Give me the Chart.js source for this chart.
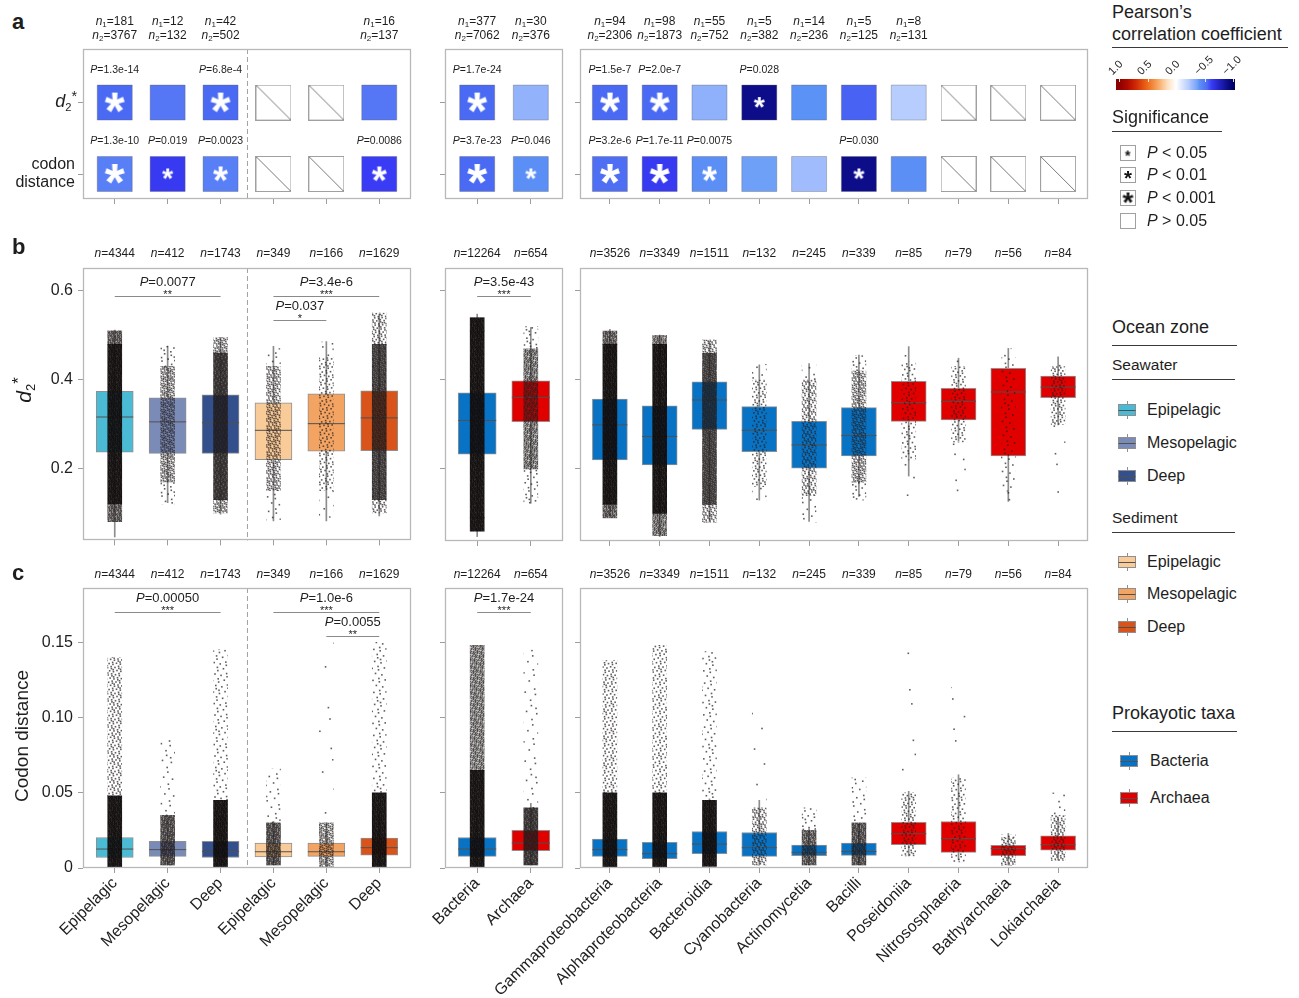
<!DOCTYPE html>
<html><head><meta charset="utf-8"><title>d2* and codon distance</title>
<script src="https://cdn.jsdelivr.net/npm/chart.js@4/dist/chart.umd.min.js"></script>
<style>
html,body{margin:0;padding:0;background:#fff;}
#root{position:relative;width:1299px;height:998px;overflow:hidden;font-family:"Liberation Sans",Arial,Helvetica,sans-serif;color:#1e1e1e;}
#root canvas{position:absolute;}
.t{position:absolute;white-space:nowrap;line-height:1;}
.sb{font-size:62%;position:relative;top:0.32em;}
.sp{font-size:80%;position:relative;top:-0.42em;}
.rule{position:absolute;height:1.2px;background:#3a3a3a;}
</style></head>
<body><div id="root"></div>
<script>
// ===================== DATA =====================
const categories = ['Epipelagic','Mesopelagic','Deep','Epipelagic','Mesopelagic','Deep',
  'Bacteria','Archaea',
  'Gammaproteobacteria','Alphaproteobacteria','Bacteroidia','Cyanobacteria','Actinomycetia','Bacilli',
  'Poseidoniia','Nitrososphaeria','Bathyarchaeia','Lokiarchaeia'];
const groupSizes = [6, 2, 10];

// panel a : sample sizes, Pearson r and P-values (null = NA / not significant)
const aN1 = [181, 12, 42, null, null, 16, 377, 30, 94, 98, 55, 5, 14, 5, 8, null, null, null];
const aN2 = [3767, 132, 502, null, null, 137, 7062, 376, 2306, 1873, 752, 382, 236, 125, 131, null, null, null];
const aCorrD2 = [-0.55, -0.50, -0.55, null, null, -0.50, -0.55, -0.31, -0.55, -0.55, -0.32, -0.90, -0.41, -0.56, -0.22, null, null, null];
const aPD2 = ['1.3e-14', null, '6.8e-4', null, null, null, '1.7e-24', null, '1.5e-7', '2.0e-7', null, '0.028', null, null, null, null, null, null];
const aCorrCodon = [-0.47, -0.63, -0.47, null, null, -0.62, -0.55, -0.42, -0.53, -0.63, -0.42, -0.38, -0.27, -0.90, -0.42, null, null, null];
const aPCodon = ['1.3e-10', '0.019', '0.0023', null, null, '0.0086', '3.7e-23', '0.046', '3.2e-6', '1.7e-11', '0.0075', null, null, '0.030', null, null, null, null];

// panels b, c : sample sizes
const sampleN = [4344, 412, 1743, 349, 166, 1629, 12264, 654, 3526, 3349, 1511, 132, 245, 339, 85, 79, 56, 84];

// panel b : d2* box statistics
const bWhiskerLo = [0.046, 0.123, 0.097, 0.082, 0.082, 0.093, 0.048, 0.123, 0.093, 0.048, 0.082, 0.130, 0.082, 0.138, 0.184, 0.262, 0.127, 0.299];
const bQ1        = [0.237, 0.234, 0.234, 0.220, 0.239, 0.240, 0.233, 0.306, 0.220, 0.209, 0.289, 0.239, 0.202, 0.229, 0.307, 0.310, 0.229, 0.360];
const bMedian    = [0.316, 0.305, 0.303, 0.286, 0.301, 0.314, 0.309, 0.361, 0.299, 0.273, 0.355, 0.287, 0.254, 0.275, 0.349, 0.352, 0.373, 0.384];
const bQ3        = [0.374, 0.359, 0.366, 0.348, 0.368, 0.375, 0.371, 0.398, 0.357, 0.342, 0.396, 0.340, 0.307, 0.338, 0.397, 0.381, 0.426, 0.409];
const bWhiskerHi = [0.512, 0.476, 0.494, 0.475, 0.486, 0.548, 0.548, 0.518, 0.514, 0.501, 0.486, 0.434, 0.437, 0.456, 0.475, 0.449, 0.471, 0.452];
// panel b : extent of the jittered point clouds (outer range and dense core)
const bPointsLo  = [0.08, 0.12, 0.10, 0.08, 0.09, 0.10, 0.06, 0.12, 0.09, 0.05, 0.08, 0.13, 0.08, 0.13, 0.14, 0.13, 0.12, 0.14];
const bCoreLo    = [0.12, 0.17, 0.13, 0.15, 0.15, 0.13, 0.09, 0.20, 0.12, 0.10, 0.12, 0.16, 0.14, 0.17, 0.22, 0.26, 0.15, 0.30];
const bCoreHi    = [0.48, 0.43, 0.46, 0.43, 0.45, 0.48, 0.51, 0.47, 0.48, 0.48, 0.46, 0.40, 0.40, 0.42, 0.44, 0.43, 0.45, 0.43];
const bPointsHi  = [0.51, 0.475, 0.495, 0.47, 0.485, 0.55, 0.54, 0.52, 0.51, 0.50, 0.49, 0.435, 0.435, 0.455, 0.475, 0.45, 0.47, 0.45];

// panel c : codon distance box statistics
const cWhiskerLo = [0.0005, 0.002, 0.0005, 0.002, 0.001, 0.0005, 0.0005, 0.002, 0.0005, 0.0005, 0.001, 0.002, 0.002, 0.002, 0.008, 0.0055, 0.002, 0.0055];
const cQ1        = [0.0070, 0.0077, 0.0070, 0.0073, 0.0077, 0.0086, 0.0077, 0.0115, 0.0077, 0.0062, 0.0095, 0.0077, 0.0082, 0.0084, 0.0155, 0.0104, 0.0082, 0.0119];
const cMedian    = [0.0126, 0.0122, 0.0110, 0.0108, 0.0108, 0.0135, 0.0126, 0.0166, 0.0122, 0.0095, 0.0159, 0.0135, 0.0104, 0.0110, 0.0228, 0.0195, 0.0130, 0.0155];
const cQ3        = [0.0203, 0.0177, 0.0177, 0.0166, 0.0166, 0.0199, 0.0203, 0.0250, 0.0193, 0.0170, 0.0243, 0.0236, 0.0153, 0.0166, 0.0303, 0.0309, 0.0150, 0.0214];
const cWhiskerHi = [0.040, 0.033, 0.034, 0.031, 0.030, 0.037, 0.039, 0.043, 0.037, 0.033, 0.046, 0.045, 0.026, 0.029, 0.051, 0.062, 0.023, 0.033];
const cPointsLo  = [0.0005, 0.002, 0.0005, 0.002, 0.001, 0.0005, 0.0005, 0.002, 0.0005, 0.0005, 0.001, 0.002, 0.002, 0.002, 0.008, 0.004, 0.002, 0.005];
const cCoreLo    = [0.0005, 0.002, 0.0005, 0.002, 0.001, 0.0005, 0.0005, 0.002, 0.0005, 0.0005, 0.001, 0.002, 0.002, 0.002, 0.008, 0.004, 0.002, 0.005];
const cCoreHi    = [0.048, 0.035, 0.045, 0.030, 0.030, 0.050, 0.065, 0.040, 0.050, 0.050, 0.045, 0.040, 0.025, 0.030, 0.050, 0.060, 0.020, 0.035];
const cPointsHi  = [0.140, 0.085, 0.145, 0.066, 0.150, 0.150, 0.148, 0.145, 0.138, 0.148, 0.144, 0.112, 0.040, 0.060, 0.145, 0.120, 0.022, 0.050];

// significance brackets: [fromColumn, toColumn (1-based, global), height (data units), P label, stars]
const bTests = [[1, 3, 0.589, '0.0077', '**'], [4, 6, 0.589, '3.4e-6', '***'], [4, 5, 0.535, '0.037', '*'], [7, 8, 0.589, '3.5e-43', '***']];
const cTests = [[1, 3, 0.170, '0.00050', '***'], [4, 6, 0.170, '1.0e-6', '***'], [5, 6, 0.154, '0.0055', '**'], [7, 8, 0.170, '1.7e-24', '***']];

// tick labels
const bTicks = [0.2, 0.4, 0.6];
const bTickLabels = ['0.2', '0.4', '0.6'];
const cTicks = [0, 0.05, 0.10, 0.15];
const cTickLabels = ['0', '0.05', '0.10', '0.15'];
const corrLegendTicks = [1.0, 0.5, 0.0, -0.5, -1.0];
const corrLegendLabels = ['1.0', '0.5', '0.0', '\u22120.5', '\u22121.0'];

// ===================== STYLE / LAYOUT =====================
const FONT = '"Liberation Sans", Arial, Helvetica, sans-serif';
const BOX_COLORS = ['#4bbbd5', '#7b8bb7', '#33508c', '#f9cb98', '#f4a462', '#d9541b',
  '#0873c5', '#e00000',
  '#0873c5', '#0873c5', '#0873c5', '#0873c5', '#0873c5', '#0873c5', '#e00000', '#e00000', '#e00000', '#e00000'];
const CORR_STOPS = [[1.0, '#8b0000'], [0.85, '#b00a00'], [0.7, '#d02a05'], [0.5, '#ee6a1a'], [0.3, '#f9ad6a'], [0.15, '#fde0c0'],
  [0.0, '#ffffff'], [-0.1, '#dde7fe'], [-0.22, '#b6cdfd'], [-0.27, '#a0bcfc'], [-0.32, '#8fb0fb'], [-0.38, '#6fa0f8'],
  [-0.41, '#5b92f5'], [-0.45, '#5a84f6'], [-0.5, '#5577f5'], [-0.55, '#4a6af4'], [-0.62, '#3a3cf5'], [-0.75, '#2424c8'],
  [-0.9, '#0d0d8a'], [-1.0, '#000066']];
const FRAME_X = [[83, 411], [445, 563], [580, 1088]];
const FRAME_Y = { a: [49, 199], b: [268, 541], c: [588, 868] };
const B_RANGE = [0.038, 0.6517];
const C_RANGE = [0, 0.1862];
const AXIS_COLOR = '#9d9d9d', FRAME_COLOR = '#b8b8b8';
const GROUP_START = [0, 6, 8];

Chart.defaults.font.family = FONT;
const root = document.getElementById('root');

// ===================== HELPERS =====================
function makeCanvas(x, y, w, h) {
  const c = document.createElement('canvas');
  c.width = w; c.height = h;
  c.style.left = x + 'px'; c.style.top = y + 'px';
  c.style.width = w + 'px'; c.style.height = h + 'px';
  root.appendChild(c);
  return c;
}
function txt(html, x, y, o = {}) {
  const d = document.createElement('div');
  d.className = 't'; d.innerHTML = html;
  d.style.fontSize = (o.size || 16) + 'px';
  if (o.bold) d.style.fontWeight = 'bold';
  d.style.left = x + 'px'; d.style.top = y + 'px';
  if (o.rot === -90) {
    d.style.transformOrigin = 'center center';
    d.style.transform = 'translate(-50%,-50%) rotate(-90deg)';
  } else if (o.rot) {
    d.style.transformOrigin = 'left center';
    d.style.transform = `translate(0,-50%) rotate(${o.rot}deg)`;
  } else {
    const ax = o.align === 'r' ? '-100%' : o.align === 'c' ? '-50%' : '0';
    d.style.transform = `translate(${ax},-50%)`;
  }
  root.appendChild(d);
  return d;
}
function rule(x, y, w) {
  const d = document.createElement('div');
  d.className = 'rule';
  d.style.left = x + 'px'; d.style.top = y + 'px'; d.style.width = w + 'px';
  root.appendChild(d);
}
const F = (size, style) => `${style ? style + ' ' : ''}${size}px ${FONT}`;
function drawRich(ctx, parts, cx, baseline) {
  let total = 0;
  parts.forEach(p => { ctx.font = p.font; total += ctx.measureText(p.t).width; });
  let x = cx - total / 2;
  ctx.textAlign = 'left'; ctx.textBaseline = 'alphabetic';
  parts.forEach(p => { ctx.font = p.font; ctx.fillText(p.t, x, baseline + (p.dy || 0)); x += ctx.measureText(p.t).width; });
}
function hexToRgb(h) { return [1, 3, 5].map(i => parseInt(h.slice(i, i + 2), 16)); }
function corrColor(v) {
  for (let i = 0; i < CORR_STOPS.length - 1; i++) {
    const [v0, c0] = CORR_STOPS[i], [v1, c1] = CORR_STOPS[i + 1];
    if (v <= v0 && v >= v1) {
      const t = (v0 - v) / (v0 - v1), a = hexToRgb(c0), b = hexToRgb(c1);
      return `rgb(${a.map((x, j) => Math.round(x + (b[j] - x) * t)).join(',')})`;
    }
  }
  return CORR_STOPS[CORR_STOPS.length - 1][1];
}
function sigLevel(p) {
  if (p == null) return 0;
  const v = Number(p);
  return v < 0.001 ? 3 : v < 0.01 ? 2 : v < 0.05 ? 1 : 0;
}
const astCache = {};
function asterisk(widthPx, color) {
  const key = widthPx + color;
  if (astCache[key]) return astCache[key];
  const m0 = document.createElement('canvas').getContext('2d');
  m0.font = `bold 100px ${FONT}`;
  const mm = m0.measureText('*');
  const fs = 100 * widthPx / (mm.actualBoundingBoxLeft + mm.actualBoundingBoxRight);
  const S = Math.ceil(widthPx * 1.5) + 2;
  const c = document.createElement('canvas'); c.width = c.height = S;
  const g = c.getContext('2d');
  g.font = `bold ${fs}px ${FONT}`;
  const m = g.measureText('*');
  const w = m.actualBoundingBoxLeft + m.actualBoundingBoxRight;
  const h = m.actualBoundingBoxAscent + m.actualBoundingBoxDescent;
  g.fillStyle = color; g.textAlign = 'left'; g.textBaseline = 'alphabetic';
  g.fillText('*', (S - w) / 2 + m.actualBoundingBoxLeft, (S - h) / 2 + m.actualBoundingBoxAscent);
  astCache[key] = c;
  return c;
}
function naMarker() {
  const c = document.createElement('canvas'); c.width = c.height = 36;
  const g = c.getContext('2d');
  g.fillStyle = '#fff'; g.fillRect(0, 0, 36, 36);
  g.strokeStyle = '#a0a0a0'; g.lineWidth = 1; g.strokeRect(0.5, 0.5, 35, 35);
  g.strokeStyle = '#7a7a7a'; g.beginPath(); g.moveTo(1, 1); g.lineTo(35, 35); g.stroke();
  return c;
}
// stipple texture (a fill style only): dots spread with a low-discrepancy (R2) sequence, wrapped at tile edges
function stipple(ctx2d, density) {
  const d = Math.min(density, 2.4);
  const T = d >= 0.1 ? 26 : Math.min(260, Math.round(Math.sqrt(70 / Math.max(d, 1e-5))));
  const c = document.createElement('canvas'); c.width = c.height = T;
  const g = c.getContext('2d');
  let count = Math.max(1, Math.round(d * T * T));
  if (d > 1.2) {
    g.fillStyle = 'rgba(34,28,28,0.8)'; g.fillRect(0, 0, T, T);
    count = Math.round(0.5 * T * T);
    g.fillStyle = 'rgba(18,14,14,0.85)';
  } else {
    g.fillStyle = 'rgba(36,30,30,0.72)';
  }
  for (let i = 0; i < count; i++) {
    const x = ((0.5 + i * 0.7548776662) % 1) * T, y = ((0.5 + i * 0.5698402910) % 1) * T;
    g.fillRect(x, y, 1.6, 1.6);
    if (x > T - 1.6) g.fillRect(x - T, y, 1.6, 1.6);
    if (y > T - 1.6) g.fillRect(x, y - T, 1.6, 1.6);
    if (x > T - 1.6 && y > T - 1.6) g.fillRect(x - T, y - T, 1.6, 1.6);
  }
  return ctx2d.createPattern(c, 'repeat');
}
const cols = g => Array.from({ length: groupSizes[g] }, (_, j) => GROUP_START[g] + j);
const gridOpt = { display: true, drawOnChartArea: false, drawTicks: true, tickLength: 5, color: AXIS_COLOR, offset: false };

const framePlugin = {
  id: 'frame',
  afterDatasetsDraw(chart) {
    const { ctx, chartArea: a } = chart;
    ctx.save(); ctx.strokeStyle = FRAME_COLOR; ctx.lineWidth = 1.3;
    ctx.strokeRect(Math.round(a.left) + 0.5, Math.round(a.top) + 0.5, Math.round(a.right - a.left) - 1, Math.round(a.bottom - a.top) - 1);
    ctx.restore();
  }
};
const dividerPlugin = {
  id: 'divider',
  beforeDatasetsDraw(chart) {
    const { ctx, chartArea: a, scales: { x } } = chart;
    const px = Math.round(x.getPixelForValue(3.5)) + 0.5;
    ctx.save(); ctx.strokeStyle = '#a3a3a3'; ctx.lineWidth = 1; ctx.setLineDash([5, 3]);
    ctx.beginPath(); ctx.moveTo(px, a.top); ctx.lineTo(px, a.bottom); ctx.stroke(); ctx.restore();
  }
};

// ===================== PANEL a =====================
const AST_W = { 1: 11, 2: 15, 3: 20 };
function makeHeatChart(g) {
  const ids = cols(g), n = ids.length;
  const [fl, fr] = FRAME_X[g], [ft, fb] = FRAME_Y.a;
  const ML = 14, MR = 6, MT = 40, MB = 14;
  const cv = makeCanvas(fl - ML, ft - MT, fr - fl + ML + MR, fb - ft + MT + MB);
  const rows = [{ y: 2, corr: aCorrD2, p: aPD2 }, { y: 1, corr: aCorrCodon, p: aPCodon }];
  const sq = [], sqCol = [], na = [], ast = [], astStyle = [], plab = [];
  rows.forEach(r => ids.forEach((k, j) => {
    const x = j + 1;
    if (r.corr[k] == null) na.push({ x, y: r.y });
    else { sq.push({ x, y: r.y }); sqCol.push(corrColor(r.corr[k])); }
    const lv = sigLevel(r.p[k]);
    if (lv) { ast.push({ x, y: r.y }); astStyle.push(asterisk(AST_W[lv], '#ffffff')); plab.push({ x, y: r.y, p: r.p[k] }); }
  }));
  const naImg = naMarker();
  const labelPlugin = {
    id: 'alabels',
    afterDraw(chart) {
      const { ctx, chartArea: a, scales: { x, y } } = chart;
      ctx.save(); ctx.fillStyle = '#1e1e1e';
      ids.forEach((k, j) => {
        if (aN1[k] == null) return;
        const px = x.getPixelForValue(j + 1);
        drawRich(ctx, [{ t: 'n', font: F(12, 'italic') }, { t: '1', font: F(8), dy: 2.5 }, { t: '=' + aN1[k], font: F(12) }], px, a.top - 24.5);
        drawRich(ctx, [{ t: 'n', font: F(12, 'italic') }, { t: '2', font: F(8), dy: 2.5 }, { t: '=' + aN2[k], font: F(12) }], px, a.top - 10.5);
      });
      plab.forEach(l => {
        drawRich(ctx, [{ t: 'P', font: F(10.5, 'italic') }, { t: '=' + l.p, font: F(10.5) }], x.getPixelForValue(l.x), y.getPixelForValue(l.y) - 30);
      });
      ctx.restore();
    }
  };
  new Chart(cv, {
    type: 'scatter',
    data: {
      datasets: [
        { data: sq, pointStyle: 'rect', pointRadius: 24.75, pointBackgroundColor: sqCol, pointBorderColor: 'rgba(95,95,95,0.45)', pointBorderWidth: 0.8, order: 3 },
        { data: na, pointStyle: naImg, pointRadius: 10, order: 2 },
        { data: ast, pointStyle: c => astStyle[c.dataIndex], pointRadius: 10, order: 1 }
      ]
    },
    options: {
      responsive: false, animation: false, events: [],
      layout: { autoPadding: false, padding: { top: MT, right: MR, left: 0, bottom: 0 } },
      plugins: { legend: { display: false }, tooltip: { enabled: false } },
      scales: {
        x: { type: 'linear', min: 0.4, max: n + 0.6, offset: false,
          afterBuildTicks: s => { s.ticks = ids.map((_, j) => ({ value: j + 1 })); },
          afterFit: s => { s.height = MB; }, ticks: { display: false }, grid: gridOpt, border: { display: false } },
        y: { type: 'linear', min: 0.65, max: 2.75,
          afterBuildTicks: s => { s.ticks = [{ value: 1 }, { value: 2 }]; },
          afterFit: s => { s.width = ML; }, ticks: { display: false }, grid: gridOpt, border: { display: false } }
      }
    },
    plugins: g === 0 ? [dividerPlugin, framePlugin, labelPlugin] : [framePlugin, labelPlugin]
  });
}

// ===================== PANELS b, c =====================
const STATS = {
  b: { lo: bWhiskerLo, q1: bQ1, med: bMedian, q3: bQ3, hi: bWhiskerHi, pLo: bPointsLo, cLo: bCoreLo, cHi: bCoreHi, pHi: bPointsHi,
       range: B_RANGE, ticks: bTicks, labels: bTickLabels, tests: bTests },
  c: { lo: cWhiskerLo, q1: cQ1, med: cMedian, q3: cQ3, hi: cWhiskerHi, pLo: cPointsLo, cLo: cCoreLo, cHi: cCoreHi, pHi: cPointsHi,
       range: C_RANGE, ticks: cTicks, labels: cTickLabels, tests: cTests }
};
function makeBoxChart(row, g) {
  const S = STATS[row];
  const ids = cols(g), n = ids.length;
  const [fl, fr] = FRAME_X[g], [ft, fb] = FRAME_Y[row];
  const showX = row === 'c';
  const ML = g === 0 ? (row === 'b' ? 70 : 83) : (showX ? (g === 1 ? 70 : 125) : 14);
  const MR = 6, MT = 26, MB = showX ? 128 : 14;
  const cv = makeCanvas(fl - ML, ft - MT, fr - fl + ML + MR, fb - ft + MT + MB);
  const c2 = cv.getContext('2d');
  const unit = (fr - fl) / (n + 0.2);
  const boxW = Math.round(0.7 * unit);
  const pxPerVal = (fb - ft) / (S.range[1] - S.range[0]);
  const JW = 14;
  const corePat = ids.map(k => stipple(c2, 0.95 * sampleN[k] / (JW * Math.max((S.cHi[k] - S.cLo[k]) * pxPerVal, 1))));
  const tailPat = ids.map(k => stipple(c2, 0.05 * sampleN[k] / (JW * Math.max(((S.cLo[k] - S.pLo[k]) + (S.pHi[k] - S.cHi[k])) * pxPerVal, 1))));
  const span = (lo, hi) => ids.map((k, j) => ({ x: j + 1, y: [lo[k], hi[k]] }));
  const start = GROUP_START[g], end = start + n;
  const tests = S.tests.filter(t => t[0] - 1 >= start && t[1] - 1 < end);
  const labelPlugin = {
    id: 'bclabels',
    afterDraw(chart) {
      const { ctx, chartArea: a, scales: { x, y } } = chart;
      ctx.save(); ctx.fillStyle = '#1e1e1e';
      ids.forEach((k, j) => {
        drawRich(ctx, [{ t: 'n', font: F(12, 'italic') }, { t: '=' + sampleN[k], font: F(12) }], x.getPixelForValue(j + 1), a.top - (row === 'b' ? 11 : 10));
      });
      tests.forEach(([c1, cEnd, v, p, st]) => {
        const x1 = x.getPixelForValue(c1 - start), x2 = x.getPixelForValue(cEnd - start);
        const yy = Math.round(y.getPixelForValue(v)) + 0.5, mid = (x1 + x2) / 2;
        ctx.strokeStyle = '#8a8a8a'; ctx.lineWidth = 1;
        ctx.beginPath(); ctx.moveTo(x1, yy); ctx.lineTo(x2, yy); ctx.stroke();
        drawRich(ctx, [{ t: 'P', font: F(13, 'italic') }, { t: '=' + p, font: F(13) }], mid, yy - 10.5);
        ctx.font = F(11); ctx.textAlign = 'center'; ctx.textBaseline = 'alphabetic';
        ctx.fillText(st, mid, yy + 1.5);
      });
      ctx.restore();
    }
  };
  new Chart(cv, {
    type: 'bar',
    data: {
      datasets: [
        { type: 'bar', data: span(S.lo, S.hi), backgroundColor: '#8d8d8d', barThickness: 1, grouped: false, order: 4 },
        { type: 'bar', data: span(S.q1, S.q3), backgroundColor: ids.map(k => BOX_COLORS[k]), borderColor: '#8f8f8f', borderWidth: 1,
          borderSkipped: false, barThickness: boxW, grouped: false, order: 3 },
        { type: 'line', data: ids.map((k, j) => ({ x: j + 1, y: S.med[k] })), showLine: false, pointStyle: 'line',
          pointRadius: boxW / 2, pointBorderColor: '#505050', pointBorderWidth: 1, order: 2 },
        { type: 'bar', data: span(S.pLo, S.cLo), backgroundColor: tailPat, barThickness: JW, grouped: false, order: 1 },
        { type: 'bar', data: span(S.cLo, S.cHi), backgroundColor: corePat, barThickness: JW, grouped: false, order: 1 },
        { type: 'bar', data: span(S.cHi, S.pHi), backgroundColor: tailPat, barThickness: JW, grouped: false, order: 1 }
      ]
    },
    options: {
      responsive: false, animation: false, events: [],
      layout: { autoPadding: false, padding: { top: MT, right: MR, left: 0, bottom: 0 } },
      plugins: { legend: { display: false }, tooltip: { enabled: false } },
      scales: {
        x: { type: 'linear', min: 0.4, max: n + 0.6, offset: false,
          afterBuildTicks: s => { s.ticks = ids.map((_, j) => ({ value: j + 1 })); },
          afterFit: s => { s.height = MB; },
          ticks: { display: showX, autoSkip: false, minRotation: 45, maxRotation: 45, padding: 1, color: '#1e1e1e',
            font: { family: FONT, size: 16 }, callback: v => categories[ids[Math.round(v) - 1]] },
          grid: gridOpt, border: { display: false } },
        y: { type: 'linear', min: S.range[0], max: S.range[1],
          afterBuildTicks: s => { s.ticks = S.ticks.map(v => ({ value: v })); },
          afterFit: s => { s.width = ML; },
          ticks: { display: g === 0, padding: 5, color: '#1e1e1e', font: { family: FONT, size: 16 },
            callback: v => S.labels[S.ticks.indexOf(v)] },
          grid: gridOpt, border: { display: false } }
      }
    },
    plugins: g === 0 ? [dividerPlugin, framePlugin, labelPlugin] : [framePlugin, labelPlugin]
  });
}

[0, 1, 2].forEach(g => { makeHeatChart(g); makeBoxChart('b', g); makeBoxChart('c', g); });

// ===================== TITLES =====================
txt('a', 12, 22, { size: 22, bold: true });
txt('b', 12, 247, { size: 22, bold: true });
txt('c', 12, 573, { size: 22, bold: true });
txt('<i>d</i><span class="sb">2</span><span class="sp">*</span>', 77, 101, { size: 18, align: 'r' });
txt('codon', 75, 164, { size: 16, align: 'r' });
txt('distance', 75, 182, { size: 16, align: 'r' });
txt('<i>d</i><span class="sb">2</span><span class="sp">*</span>', 24, 390, { size: 21, rot: -90 });
txt('Codon distance', 21, 736, { size: 19, rot: -90 });

// ===================== LEGENDS =====================
txt('Pearson\u2019s', 1112, 12, { size: 18 });
txt('correlation coefficient', 1112, 34, { size: 18 });
rule(1112, 47, 176);
(function colorbar() {
  const L = 1116, W = 119, T = 79, H = 11, x1 = 1119, x2 = 1233;
  const pos = v => x1 + (1 - v) / 2 * (x2 - x1);
  const stops = CORR_STOPS.map(([v, c]) => `${c} ${((pos(v) - L) / W * 100).toFixed(2)}%`).join(',');
  const d = document.createElement('div');
  Object.assign(d.style, { position: 'absolute', left: L + 'px', top: T + 'px', width: W + 'px', height: H + 'px',
    background: `linear-gradient(to right, ${CORR_STOPS[0][1]} 0%, ${stops}, ${CORR_STOPS[CORR_STOPS.length - 1][1]} 100%)` });
  root.appendChild(d);
  corrLegendTicks.forEach((v, i) => {
    const px = pos(v);
    const tk = document.createElement('div');
    Object.assign(tk.style, { position: 'absolute', left: Math.round(px) + 'px', top: T + 'px', width: '1px', height: '3px', background: 'rgba(255,255,255,0.85)' });
    root.appendChild(tk);
    txt(corrLegendLabels[i], px - 9, 73, { size: 11, rot: -45 });
  });
})();
txt('Significance', 1112, 117, { size: 18 });
rule(1112, 131, 110);
const SIG_ITEMS = [[1, '<i>P</i> &lt; 0.05'], [2, '<i>P</i> &lt; 0.01'], [3, '<i>P</i> &lt; 0.001'], [0, '<i>P</i> &gt; 0.05']];
const SIG_Y = [153, 175, 198, 221];
const SIG_AST = { 1: 5.5, 2: 8, 3: 11 };
SIG_ITEMS.forEach(([lv, label], i) => {
  const c = makeCanvas(1120, SIG_Y[i] - 8, 16, 16);
  const g = c.getContext('2d');
  g.fillStyle = '#fff'; g.fillRect(0, 0, 16, 16);
  g.strokeStyle = '#a0a0a0'; g.lineWidth = 1; g.strokeRect(0.5, 0.5, 15, 15);
  if (lv) { const a = asterisk(SIG_AST[lv], '#111'); g.drawImage(a, (16 - a.width) / 2, (16 - a.height) / 2); }
  txt(label, 1147, SIG_Y[i], { size: 16 });
});
function boxIcon(cx, cy, color) {
  const c = makeCanvas(cx - 10, cy - 9, 20, 18);
  const g = c.getContext('2d');
  g.strokeStyle = '#8f8f8f'; g.lineWidth = 1;
  g.beginPath(); g.moveTo(10.5, 0); g.lineTo(10.5, 18); g.stroke();
  g.fillStyle = color; g.fillRect(1.5, 3.5, 17, 11); g.strokeRect(1.5, 3.5, 17, 11);
  g.strokeStyle = '#505050'; g.beginPath(); g.moveTo(1.5, 9.5); g.lineTo(18.5, 9.5); g.stroke();
}
txt('Ocean zone', 1112, 327, { size: 18 });
rule(1112, 345, 125);
txt('Seawater', 1112, 365, { size: 15.5 });
rule(1112, 379, 123);
[['Epipelagic', 410, 0], ['Mesopelagic', 443, 1], ['Deep', 476, 2]].forEach(([l, y, k]) => { boxIcon(1127, y, BOX_COLORS[k]); txt(l, 1147, y, { size: 16 }); });
txt('Sediment', 1112, 518, { size: 15.5 });
rule(1112, 532, 123);
[['Epipelagic', 562, 3], ['Mesopelagic', 594, 4], ['Deep', 627, 5]].forEach(([l, y, k]) => { boxIcon(1127, y, BOX_COLORS[k]); txt(l, 1147, y, { size: 16 }); });
txt('Prokayotic taxa', 1112, 713, { size: 18 });
rule(1112, 731, 125);
[['Bacteria', 761, 6], ['Archaea', 798, 7]].forEach(([l, y, k]) => { boxIcon(1129, y, BOX_COLORS[k]); txt(l, 1150, y, { size: 16 }); });
</script></body></html>
